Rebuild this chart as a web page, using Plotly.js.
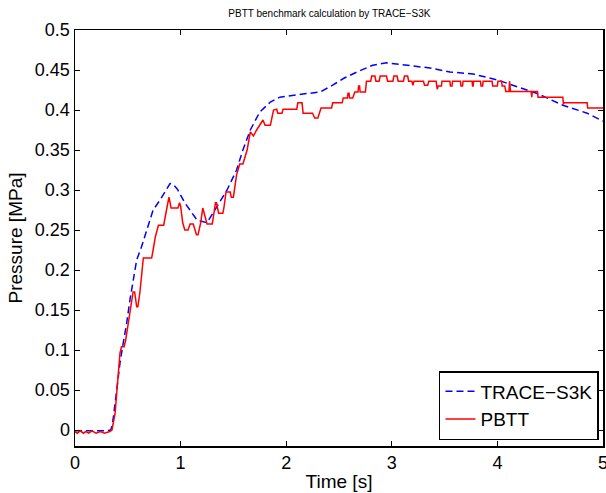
<!DOCTYPE html>
<html>
<head>
<meta charset="utf-8">
<script src="https://cdn.plot.ly/plotly-3.0.1.min.js"></script>
<style>html,body{margin:0;padding:0;background:#fff;}#chart{width:606px;height:493px;}</style>
</head>
<body>
<div id="chart"></div>
<script>
// TRACE-S3K (blue dashed)
var traceTime = [0, 0.1, 0.2, 0.3, 0.34, 0.36, 0.395, 0.426, 0.457, 0.49, 0.52, 0.55, 0.584, 0.63, 0.68, 0.74, 0.805, 0.85, 0.9, 0.93, 0.97, 1.04, 1.1, 1.155, 1.25, 1.34, 1.44, 1.53, 1.59, 1.66, 1.75, 1.85, 1.94, 2.1, 2.23, 2.32, 2.44, 2.55, 2.67, 2.82, 2.95, 3.14, 3.36, 3.55, 3.77, 4.0, 4.15, 4.37, 4.62, 4.85, 5.0];
var tracePressure = [-0.001, -0.001, -0.001, -0.001, 0.0, 0.0125, 0.05, 0.084, 0.109, 0.134, 0.1625, 0.1875, 0.2125, 0.229, 0.25, 0.275, 0.2875, 0.2975, 0.308, 0.307, 0.301, 0.284, 0.272, 0.2625, 0.259, 0.279, 0.30, 0.325, 0.35, 0.375, 0.3975, 0.41, 0.416, 0.419, 0.421, 0.4225, 0.431, 0.44, 0.4475, 0.456, 0.459, 0.456, 0.4525, 0.4475, 0.445, 0.4375, 0.431, 0.421, 0.406, 0.396, 0.386];

// PBTT (red solid)
var pbttTime = [0, 0.02, 0.05, 0.08, 0.1, 0.13, 0.16, 0.2, 0.24, 0.28, 0.3, 0.33, 0.35,
  0.38, 0.395, 0.41, 0.426, 0.44, 0.465, 0.48, 0.50, 0.52, 0.537, 0.55, 0.565, 0.584, 0.595, 0.615, 0.647, 0.726, 0.74, 0.76, 0.79, 0.84, 0.87, 0.89, 0.91, 0.975, 0.99, 1.0, 1.02, 1.04, 1.07, 1.09, 1.12, 1.15, 1.165, 1.19, 1.21, 1.23, 1.25, 1.30, 1.33, 1.34, 1.36, 1.40, 1.41, 1.43, 1.47, 1.48, 1.50, 1.53, 1.56, 1.59, 1.63, 1.66, 1.69, 1.72, 1.75, 1.78, 1.80, 1.85, 1.88, 1.91, 1.92, 1.96, 1.97, 2.10, 2.11, 2.15, 2.16, 2.25, 2.27, 2.30, 2.33, 2.43, 2.44, 2.53, 2.54, 2.58, 2.585, 2.595, 2.60, 2.63, 2.65, 2.68, 2.685, 2.695, 2.70, 2.75, 2.76, 2.80, 2.81, 2.84, 2.85, 2.88, 2.89, 2.95, 2.96, 3.01, 3.02, 3.05, 3.06, 3.11, 3.12, 3.15, 3.16, 3.19, 3.20, 3.21, 3.30, 3.31, 3.34, 3.35, 3.42, 3.43, 3.44, 3.47, 3.475, 3.55, 3.555, 3.57, 3.575, 3.65, 3.655, 3.67, 3.675, 3.76, 3.765, 3.77, 3.775, 3.84, 3.845, 3.86, 3.865, 3.95, 3.955, 4.0, 4.005, 4.04, 4.045, 4.07, 4.08, 4.11, 4.115, 4.125, 4.32, 4.325, 4.33, 4.38, 4.385, 4.62, 4.625, 4.63, 4.85, 4.855, 5.0];
var pbttPressure = [-0.002, -0.004, -0.001, -0.004, -0.002, -0.004, -0.001, -0.004, -0.002, -0.004, -0.003, -0.002, 0.0,
  0.021, 0.046, 0.071, 0.096, 0.104, 0.104, 0.1125, 0.129, 0.146, 0.158, 0.1725, 0.1725, 0.154, 0.154, 0.1725, 0.215, 0.215, 0.225, 0.241, 0.256, 0.256, 0.2775, 0.291, 0.2775, 0.2775, 0.284, 0.28, 0.259, 0.25, 0.25, 0.2575, 0.2575, 0.244, 0.244, 0.259, 0.2775, 0.269, 0.2575, 0.2575, 0.284, 0.284, 0.271, 0.271, 0.2775, 0.2975, 0.2975, 0.291, 0.291, 0.319, 0.3325, 0.3325, 0.35, 0.3725, 0.3675, 0.375, 0.381, 0.3875, 0.381, 0.381, 0.40, 0.401, 0.396, 0.396, 0.401, 0.401, 0.409, 0.409, 0.396, 0.396, 0.39, 0.39, 0.4025, 0.4025, 0.409, 0.409, 0.415, 0.415, 0.421, 0.421, 0.415, 0.415, 0.4225, 0.4225, 0.43, 0.43, 0.4225, 0.4225, 0.436, 0.436, 0.4425, 0.4425, 0.436, 0.436, 0.4425, 0.4425, 0.436, 0.436, 0.4425, 0.4425, 0.436, 0.436, 0.4425, 0.4425, 0.436, 0.436, 0.431, 0.436, 0.436, 0.431, 0.431, 0.436, 0.436, 0.426, 0.43, 0.43, 0.436, 0.436, 0.43, 0.43, 0.436, 0.436, 0.43, 0.43, 0.436, 0.436, 0.43, 0.43, 0.436, 0.436, 0.43, 0.43, 0.436, 0.436, 0.43, 0.43, 0.436, 0.436, 0.43, 0.43, 0.423, 0.423, 0.436, 0.423, 0.423, 0.416, 0.423, 0.423, 0.416, 0.416, 0.407, 0.409, 0.409, 0.4025, 0.4025];

var xTickVals = [0, 1, 2, 3, 4, 5];
var xTickText = ["0", "1", "2", "3", "4", "5"];
var yTickVals = [0, 0.05, 0.1, 0.15, 0.2, 0.25, 0.3, 0.35, 0.4, 0.45, 0.5];
var yTickText = ["0", "0.05", "0.1", "0.15", "0.2", "0.25", "0.3", "0.35", "0.4", "0.45", "0.5"];

var FONT = "Liberation Sans, Arial, Helvetica, sans-serif";

var data = [
  {x: traceTime, y: tracePressure, type: "scatter", mode: "lines", name: "TRACE−S3K",
   line: {color: "#0000ff", width: 1.5, dash: "7px,4px"}},
  {x: pbttTime, y: pbttPressure, type: "scatter", mode: "lines", name: "PBTT",
   line: {color: "#ff0000", width: 1.5}}
];

var axisCommon = {
  showgrid: false, zeroline: false, showline: true, linecolor: "#000", linewidth: 1.5,
  mirror: "ticks", ticks: "inside", ticklen: 5, tickwidth: 1, tickcolor: "#000",
  ticklabeloverflow: "allow",
  tickfont: {family: FONT, size: 18, color: "#000"}
};

var layout = {
  width: 606, height: 493,
  margin: {l: 75, r: 3, t: 30, b: 47, pad: 0},
  paper_bgcolor: "#fff", plot_bgcolor: "#fff",
  showlegend: true,
  title: {text: "PBTT benchmark calculation by TRACE−S3K", font: {family: FONT, size: 10, color: "#000"},
          x: 292/606, xref: "paper", xanchor: "center", y: 1 - 13/493, yanchor: "middle"},
  xaxis: Object.assign({}, axisCommon, {range: [0, 5], tickvals: xTickVals, ticktext: xTickText,
    title: {text: "Time [s]", font: {family: FONT, size: 19, color: "#000"}, standoff: 2}}),
  yaxis: Object.assign({}, axisCommon, {range: [-0.02, 0.5], tickvals: yTickVals, ticktext: yTickText,
    title: {text: "Pressure [MPa]", font: {family: FONT, size: 19, color: "#000"}, standoff: 7}}),
  legend: {x: 0.9924, xanchor: "right", y: 0.0144, yanchor: "bottom",
    bgcolor: "#fff", bordercolor: "#000", borderwidth: 1.5,
    font: {family: FONT, size: 19, color: "#000"}, tracegroupgap: 0}
};

Plotly.newPlot("chart", data, layout, {displayModeBar: false, staticPlot: true});
</script>
</body>
</html>
